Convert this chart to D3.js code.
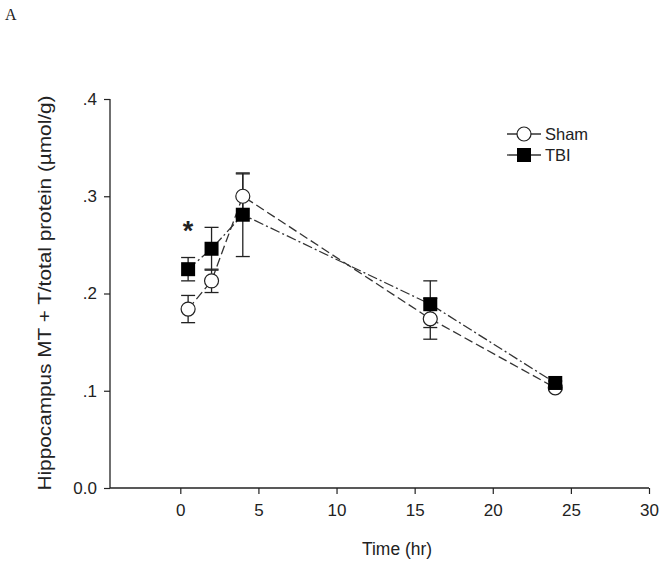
<!DOCTYPE html>
<html><head><meta charset="utf-8">
<script src="https://cdn.jsdelivr.net/npm/d3@7"></script>
<style>body{margin:0;background:#fff}text{font-family:"Liberation Sans",Arial,sans-serif;fill:#222}</style>
</head><body>
<svg id="c" width="664" height="567"></svg>
<script>
const times = [0.5, 2, 4, 16, 24];
const shamMean = [0.184, 0.213, 0.300, 0.174, 0.103];
const shamErr  = [0.014, 0.012, 0.023, 0.021, 0.002];
const tbiMean  = [0.225, 0.246, 0.281, 0.189, 0.108];
const tbiErr   = [0.012, 0.022, 0.043, 0.024, 0.002];
const xTicks = [0, 5, 10, 15, 20, 25, 30];
const yTicks = [0, 0.1, 0.2, 0.3, 0.4];
const yTickLabels = ["0.0", ".1", ".2", ".3", ".4"];
const seriesNames = ["Sham", "TBI"];

const svg = d3.select("#c");
const x = d3.scaleLinear().domain([-4.5, 30]).range([110, 649]);
const y = d3.scaleLinear().domain([0, 0.4]).range([488, 99]);

// panel label
svg.append("text").attr("x", 5).attr("y", 20).text("A")
  .style("font-family", "'Liberation Serif',serif").style("font-size", "16px");

// axes
const xa = svg.append("g").attr("transform", "translate(0,488)")
  .call(d3.axisBottom(x).tickValues(xTicks).tickSize(6).tickPadding(10).tickFormat(d3.format("d")));
const ya = svg.append("g").attr("transform", "translate(110,0)")
  .call(d3.axisLeft(y).tickValues(yTicks).tickSize(6).tickPadding(7).tickFormat((d,i)=>yTickLabels[i]));
[xa, ya].forEach(g => {
  g.select(".domain").attr("stroke", "#222").attr("stroke-width", 1.3);
  g.selectAll(".tick line").attr("stroke", "#222").attr("stroke-width", 1.2);
  g.selectAll(".tick text").style("font-size", "17px").attr("fill", "#222");
});
xa.select(".domain").attr("d", `M${x(-4.5)},0H${x(30)}`);
ya.select(".domain").attr("d", `M0,${y(0)}V${y(0.4)}`);

svg.append("text").attr("x", 397).attr("y", 555).attr("text-anchor", "middle")
  .attr("textLength", 70).attr("lengthAdjust", "spacingAndGlyphs")
  .style("font-size", "18px").text("Time (hr)");
svg.append("text").attr("transform", "translate(51,293) rotate(-90)").attr("text-anchor", "middle")
  .attr("textLength", 395).attr("lengthAdjust", "spacingAndGlyphs")
  .style("font-size", "18px").text("Hippocampus MT + T/total protein (\u00b5mol/g)");

const series = [
  {name: seriesNames[0], mean: shamMean, err: shamErr, dash: "9,4", shape: "circle"},
  {name: seriesNames[1], mean: tbiMean, err: tbiErr, dash: "10,3,2,3", shape: "square"}
];
const line = d3.line().x(d => x(d[0])).y(d => y(d[1]));

series.forEach(s => {
  const pts = times.map((t, i) => [t, s.mean[i]]);
  svg.append("path").attr("d", line(pts)).attr("fill", "none")
    .attr("stroke", "#333").attr("stroke-width", 1.3).attr("stroke-dasharray", s.dash);
});
series.forEach(s => {
  times.forEach((t, i) => {
    const cx = x(t), lo = y(s.mean[i] - s.err[i]), hi = y(s.mean[i] + s.err[i]);
    const g = svg.append("g").attr("stroke", "#222").attr("stroke-width", 1.3);
    g.append("line").attr("x1", cx).attr("x2", cx).attr("y1", lo).attr("y2", hi);
    g.append("line").attr("x1", cx - 7).attr("x2", cx + 7).attr("y1", lo).attr("y2", lo);
    g.append("line").attr("x1", cx - 7).attr("x2", cx + 7).attr("y1", hi).attr("y2", hi);
  });
});
function marker(g, shape, cx, cy) {
  if (shape === "circle") {
    g.append("circle").attr("cx", cx).attr("cy", cy).attr("r", 7)
      .attr("fill", "#fff").attr("stroke", "#222").attr("stroke-width", 1.2);
  } else {
    g.append("rect").attr("x", cx - 7).attr("y", cy - 7).attr("width", 14).attr("height", 14)
      .attr("fill", "#000");
  }
}
series.forEach(s => {
  times.forEach((t, i) => marker(svg, s.shape, x(t), y(s.mean[i])));
});

// significance asterisk
svg.append("text").attr("x", x(0.5)).attr("y", 240).attr("text-anchor", "middle")
  .style("font-size", "27px").style("font-weight", "bold").text("*");

// legend
series.forEach((s, i) => {
  const ly = 134 + i * 21;
  svg.append("line").attr("x1", 507).attr("x2", 541).attr("y1", ly).attr("y2", ly)
    .attr("stroke", "#333").attr("stroke-width", 1.3).attr("stroke-dasharray", i === 0 ? null : "14,3,2,3");
  marker(svg, s.shape, 524, ly);
  svg.append("text").attr("x", 545).attr("y", ly + 6).style("font-size", "16.5px").text(s.name);
});
</script>
</body></html>
